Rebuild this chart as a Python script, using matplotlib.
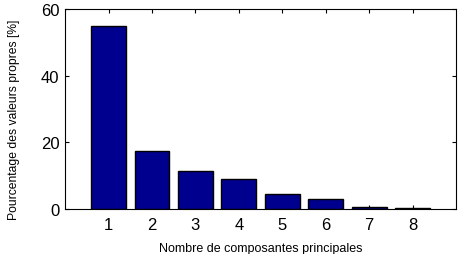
import numpy as np
import matplotlib.pyplot as plt

# ---- donnees ----
composantes = [1, 2, 3, 4, 5, 6, 7, 8]
pourcentage = [55.0, 17.4, 11.3, 9.0, 4.5, 3.0, 0.7, 0.4]

plt.rcParams['font.family'] = ['Liberation Sans', 'DejaVu Sans']

fig = plt.figure(figsize=(4.62, 2.55), dpi=100)
ax = fig.add_axes([0.141, 0.176, 0.846, 0.785])

ax.bar(composantes, pourcentage, width=0.8, color='#00008F',
       edgecolor='black', linewidth=1.0, zorder=2)

ax.set_xlim(0, 9)
ax.set_ylim(0, 60)
ax.set_xticks(composantes)
ax.set_yticks([0, 20, 40, 60])
ax.tick_params(direction='in', length=3, labelsize=12, top=True, right=True, pad=4)
ax.tick_params(axis='x', pad=6)
for s in ax.spines.values():
    s.set_linewidth(0.8)

ax.set_xlabel('Nombre de composantes principales', fontsize=9, va='top')
ax.xaxis.set_label_coords(0.5, -0.165)
ax.set_ylabel('Pourcentage des valeurs propres [%]', fontsize=8.7, va='center')
ax.yaxis.set_label_coords(-0.13, 0.45)

fig.savefig('out.png', dpi=100)
